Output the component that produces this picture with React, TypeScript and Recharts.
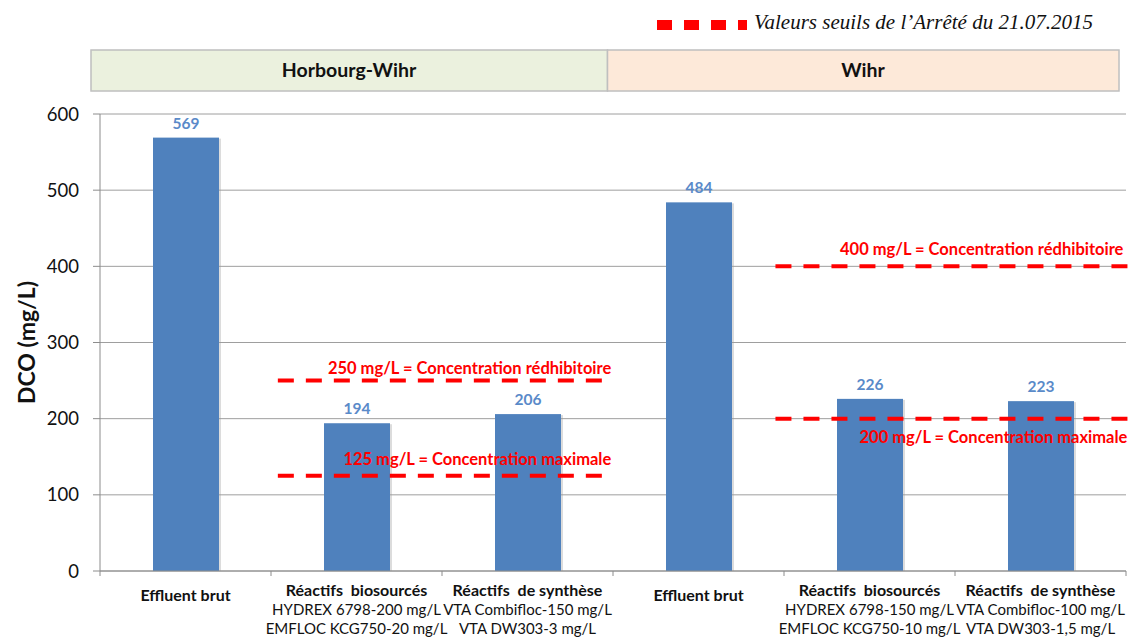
import React from 'react';
import {
  BarChart, Bar, XAxis, YAxis, CartesianGrid, ReferenceLine, LabelList,
} from 'recharts';

// ---- data ----
const categoryKeys = ['hw-brut', 'hw-bio', 'hw-synth', 'w-brut', 'w-bio', 'w-synth'];
const categoryTitles = [
  'Effluent brut', 'Réactifs  biosourcés', 'Réactifs  de synthèse',
  'Effluent brut', 'Réactifs  biosourcés', 'Réactifs  de synthèse',
];
const detailLine1 = ['', 'HYDREX 6798-200 mg/L', 'VTA Combifloc-150 mg/L', '', 'HYDREX 6798-150 mg/L', 'VTA Combifloc-100 mg/L'];
const detailLine2 = ['', 'EMFLOC KCG750-20 mg/L', 'VTA DW303-3 mg/L', '', 'EMFLOC KCG750-10 mg/L', 'VTA DW303-1,5 mg/L'];
const dcoValues = [569, 194, 206, 484, 226, 223];

const yTicks = [0, 100, 200, 300, 400, 500, 600];

const thresholdValues = [250, 125, 400, 200];
const thresholdLabels = [
  '250 mg/L = Concentration rédhibitoire',
  '125 mg/L = Concentration maximale',
  '400 mg/L = Concentration rédhibitoire',
  '200 mg/L = Concentration maximale',
];
const thresholdFrom = [1.04, 1.04, 3.95, 3.95];
const thresholdTo = [2.99, 2.99, 6.02, 6.02];

const siteNames = ['Horbourg-Wihr', 'Wihr'];
const legendText = 'Valeurs seuils de l\u2019Arrêté du 21.07.2015';

// ---- layout/style ----
const FONT = 'Lato, "Open Sans", sans-serif';
const labelDx = [0, 0, -6, -2];
const labelDy = [-7, -11, -11, 24];

const data = categoryKeys.map((k, i) => ({ key: k, pos: i + 0.5, value: dcoValues[i] }));

const BarShape = (p: any) => (
  <g>
    <rect x={p.x + 2} y={p.y + 1} width={p.width} height={Math.max(0, p.height - 1)} fill="#9a9a9a" opacity={0.35} />
    <rect x={p.x} y={p.y} width={p.width} height={p.height} fill="#4f81bd" />
  </g>
);

const XTick = (p: any) => {
  const i = p.payload.index;
  const band = (p.width ?? 1026) / (p.visibleTicksCount ?? 6);
  const x = p.x;
  const y = p.y;
  const multi = detailLine1[i] !== '';
  const left = x - band / 2;
  const right = x + band / 2;
  return (
    <g>
      <line x1={left} y1={y} x2={left} y2={y + 5} stroke="#8c8c8c" />
      {i === categoryKeys.length - 1 && (
        <line x1={right} y1={y} x2={right} y2={y + 5} stroke="#8c8c8c" />
      )}
      <text x={x} y={y + (multi ? 25 : 30)} textAnchor="middle" fontFamily={FONT} fontSize={16} fontWeight="bold" fill="#111" style={{ whiteSpace: 'pre' }}>
        {categoryTitles[i]}
      </text>
      {multi && (
        <text x={x} y={y + 44} textAnchor="middle" fontFamily={FONT} fontSize={15} fill="#111">
          {detailLine1[i]}
        </text>
      )}
      {multi && (
        <text x={x} y={y + 63} textAnchor="middle" fontFamily={FONT} fontSize={15} fill="#111">
          {detailLine2[i]}
        </text>
      )}
    </g>
  );
};

const makeThresholdLabel = (i: number) => (props: any) => {
  const vb = props.viewBox || {};
  return (
    <text
      x={vb.x + vb.width + labelDx[i]}
      y={vb.y + labelDy[i]}
      textAnchor="end"
      fontFamily={FONT}
      fontSize={16.5}
      fontWeight="bold"
      fill="#ff0000"
    >
      {thresholdLabels[i]}
    </text>
  );
};

export default function App() {
  return (
    <div style={{ position: 'absolute', left: 0, top: 0, width: 1128, height: 641, background: '#fff' }}>
      <BarChart
        width={1128}
        height={641}
        data={data}
        margin={{ top: 114, right: 2, bottom: 0, left: 0 }}
        style={{ fontFamily: FONT }}
      >
        {/* site header boxes */}
        <rect x={91} y={50} width={516.5} height={41} fill="#ebf1de" stroke="#bfbfbf" strokeWidth={1.5} />
        <rect x={607.5} y={50} width={511.5} height={41} fill="#fde9d9" stroke="#bfbfbf" strokeWidth={1.5} />
        <text x={349} y={77} textAnchor="middle" fontFamily={FONT} fontSize={19.5} fontWeight="bold" fill="#111">{siteNames[0]}</text>
        <text x={863} y={77} textAnchor="middle" fontFamily={FONT} fontSize={19.5} fontWeight="bold" fill="#111">{siteNames[1]}</text>
        {/* legend */}
        <line x1={657} y1={25} x2={747} y2={25} stroke="#ff0000" strokeWidth={10} strokeDasharray="15 12" />
        <text x={754} y={29} fontFamily='"Liberation Serif", "DejaVu Serif", serif' fontStyle="italic" fontSize={21} fill="#111">{legendText}</text>

        <CartesianGrid vertical={false} stroke="#9e9e9e" />
        <XAxis
          dataKey="key"
          height={70}
          tickLine={false}
          tickSize={0}
          tickMargin={0}
          axisLine={{ stroke: '#8c8c8c' }}
          interval={0}
          tick={<XTick />}
        />
        <XAxis xAxisId="pos" dataKey="pos" type="number" domain={[0, 6]} hide />
        <YAxis
          domain={[0, 600]}
          ticks={yTicks}
          width={100}
          tickSize={7}
          tickMargin={14}
          tickLine={{ stroke: '#8c8c8c' }}
          axisLine={{ stroke: '#8c8c8c' }}
          tick={{ fontSize: 18.5, fill: '#111', fontFamily: FONT }}
          label={{
            value: 'DCO (mg/L)', angle: -90, position: 'insideLeft', offset: 27,
            style: { textAnchor: 'middle', fontSize: 23, fontWeight: 'bold', fill: '#111', fontFamily: FONT },
          }}
        />
        <Bar dataKey="value" barSize={66} shape={<BarShape />} isAnimationActive={false}>
          <LabelList dataKey="value" position="top" offset={9} fill="#5a8ac9" fontSize={15.5} fontWeight="bold" fontFamily={FONT} />
        </Bar>
        {thresholdValues.map((v, i) => (
          <ReferenceLine
            key={i}
            xAxisId="pos"
            segment={[{ x: thresholdFrom[i], y: v }, { x: thresholdTo[i], y: v }]}
            stroke="#ff0000"
            strokeWidth={4}
            strokeDasharray="16 12"
            ifOverflow="visible"
            label={makeThresholdLabel(i)}
          />
        ))}
      </BarChart>
    </div>
  );
}
